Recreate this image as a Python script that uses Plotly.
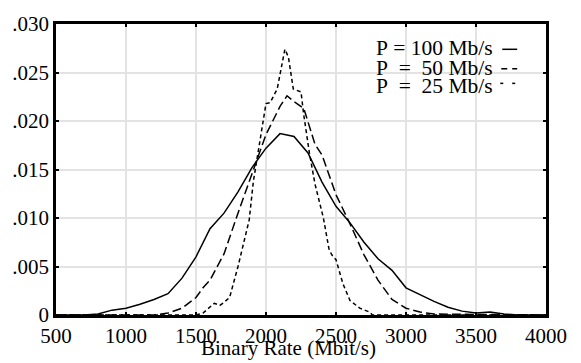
import plotly.graph_objects as go

# ---- data ----
x_100 = [500, 700, 800, 900, 1000, 1100, 1200, 1300, 1400, 1500, 1600, 1700, 1800, 1900,
         2000, 2100, 2200, 2300, 2400, 2500, 2600, 2700, 2800, 2900, 3000, 3100, 3200,
         3300, 3400, 3500, 3600, 3700, 3800, 4000]
y_100 = [0, 0, 0.0001, 0.0005, 0.0007, 0.0011, 0.0016, 0.0022, 0.0038, 0.0060, 0.0089,
         0.0105, 0.0127, 0.0152, 0.0172, 0.0187, 0.0184, 0.0167, 0.0137, 0.0112, 0.0095,
         0.0075, 0.0058, 0.0046, 0.0028, 0.0021, 0.0014, 0.0008, 0.0004, 0.0002, 0.0003,
         0.0001, 0, 0]

x_50 = [500, 1200, 1300, 1400, 1500, 1550, 1600, 1700, 1800, 1900, 2000, 2100, 2150, 2200,
        2270, 2350, 2400, 2500, 2600, 2700, 2800, 2900, 3000, 3100, 3200, 4000]
y_50 = [0, 0, 0.0002, 0.0007, 0.0018, 0.0028, 0.0036, 0.0063, 0.0105, 0.0145, 0.0186,
        0.0215, 0.0226, 0.0220, 0.0213, 0.0176, 0.0165, 0.0124, 0.0094, 0.0062, 0.0036,
        0.0016, 0.0007, 0.0003, 0.0001, 0]

x_25 = [500, 1500, 1550, 1600, 1630, 1670, 1700, 1740, 1770, 1800, 1830, 1880, 1910, 1955,
        2000, 2030, 2080, 2135, 2160, 2195, 2250, 2270, 2310, 2350, 2410, 2450, 2470, 2500,
        2550, 2600, 2670, 2740, 2760, 4000]
y_25 = [0, 0, 0.0002, 0.0008, 0.0012, 0.0010, 0.0013, 0.0018, 0.0033, 0.0050, 0.0068,
        0.0098, 0.0138, 0.0179, 0.0218, 0.0219, 0.0233, 0.0274, 0.0266, 0.0233, 0.0230,
        0.0206, 0.0167, 0.0135, 0.0100, 0.0068, 0.0062, 0.0057, 0.0032, 0.0015, 0.0007,
        0.0003, 0, 0]

x_ticks = [500, 1000, 1500, 2000, 2500, 3000, 3500, 4000]
y_ticks = [0, 0.005, 0.010, 0.015, 0.020, 0.025, 0.030]
y_tick_text = ["0", ".005", ".010", ".015", ".020", ".025", ".030"]
legend_labels = ["P\u00a0=\u00a0100 Mb/s", "P\u00a0\u00a0=\u00a0\u00a050 Mb/s",
                 "P\u00a0\u00a0=\u00a0\u00a025 Mb/s"]
x_title = "Binary Rate (Mbit/s)"

FONT = "Liberation Serif"
FS = 21
LFS = 21.5
W, H = 581, 363
L, R, T, B = 53, 546, 16, 315

def px(xp):
    return (xp - L) / (R - L)

def py(yp):
    return (B - yp) / (B - T)

fig = go.Figure()
fig.add_trace(go.Scatter(x=x_100, y=y_100, mode="lines",
                         line=dict(color="black", width=1.5), showlegend=False))
fig.add_trace(go.Scatter(x=x_50, y=y_50, mode="lines",
                         line=dict(color="black", width=1.5, dash="9px,4px"), showlegend=False))
fig.add_trace(go.Scatter(x=x_25, y=y_25, mode="lines",
                         line=dict(color="black", width=1.5, dash="4px,3px"), showlegend=False))

axis_common = dict(showline=True, linecolor="black", linewidth=2.5, mirror="ticks",
                   showgrid=True, gridcolor="#e3e3e3", gridwidth=2,
                   ticks="inside", ticklen=3, tickwidth=2, tickcolor="black",
                   zeroline=False, tickfont=dict(family=FONT, size=FS, color="black"))

fig.update_xaxes(range=[500, 4000], tickvals=x_ticks, ticktext=[str(v) for v in x_ticks],
                 **axis_common)
fig.update_yaxes(range=[0, 0.030], tickvals=y_ticks, ticktext=y_tick_text, **axis_common)

annotations = []
shapes = []
row_y = [41, 61, 80]

def ann(x, y, text, anchor, size):
    return dict(x=px(x), y=py(y), xref="paper", yref="paper", text=text, showarrow=False,
                xanchor=anchor, yanchor="middle", borderpad=0,
                font=dict(family=FONT, size=size, color="black"))

for i, lab in enumerate(legend_labels):
    annotations.append(ann(494, row_y[i], lab, "right", LFS))

# legend samples
shapes.append(dict(type="line", xref="paper", yref="paper", x0=px(502), x1=px(517),
                   y0=py(42), y1=py(42), line=dict(color="black", width=1.5)))
for a, b in [(501, 507), (512, 517)]:
    shapes.append(dict(type="line", xref="paper", yref="paper", x0=px(a), x1=px(b),
                       y0=py(62), y1=py(62), line=dict(color="black", width=1.5)))
for a, b in [(500, 503), (512, 515)]:
    shapes.append(dict(type="line", xref="paper", yref="paper", x0=px(a), x1=px(b),
                       y0=py(77), y1=py(77), line=dict(color="black", width=1.5)))

annotations.append(ann(287, 349, x_title, "center", FS))

fig.update_layout(width=W, height=H, margin=dict(l=L, r=W - R, t=T, b=H - B, pad=0),
                  paper_bgcolor="white", plot_bgcolor="white",
                  annotations=annotations, shapes=shapes, showlegend=False)

fig.write_html("out.html")
